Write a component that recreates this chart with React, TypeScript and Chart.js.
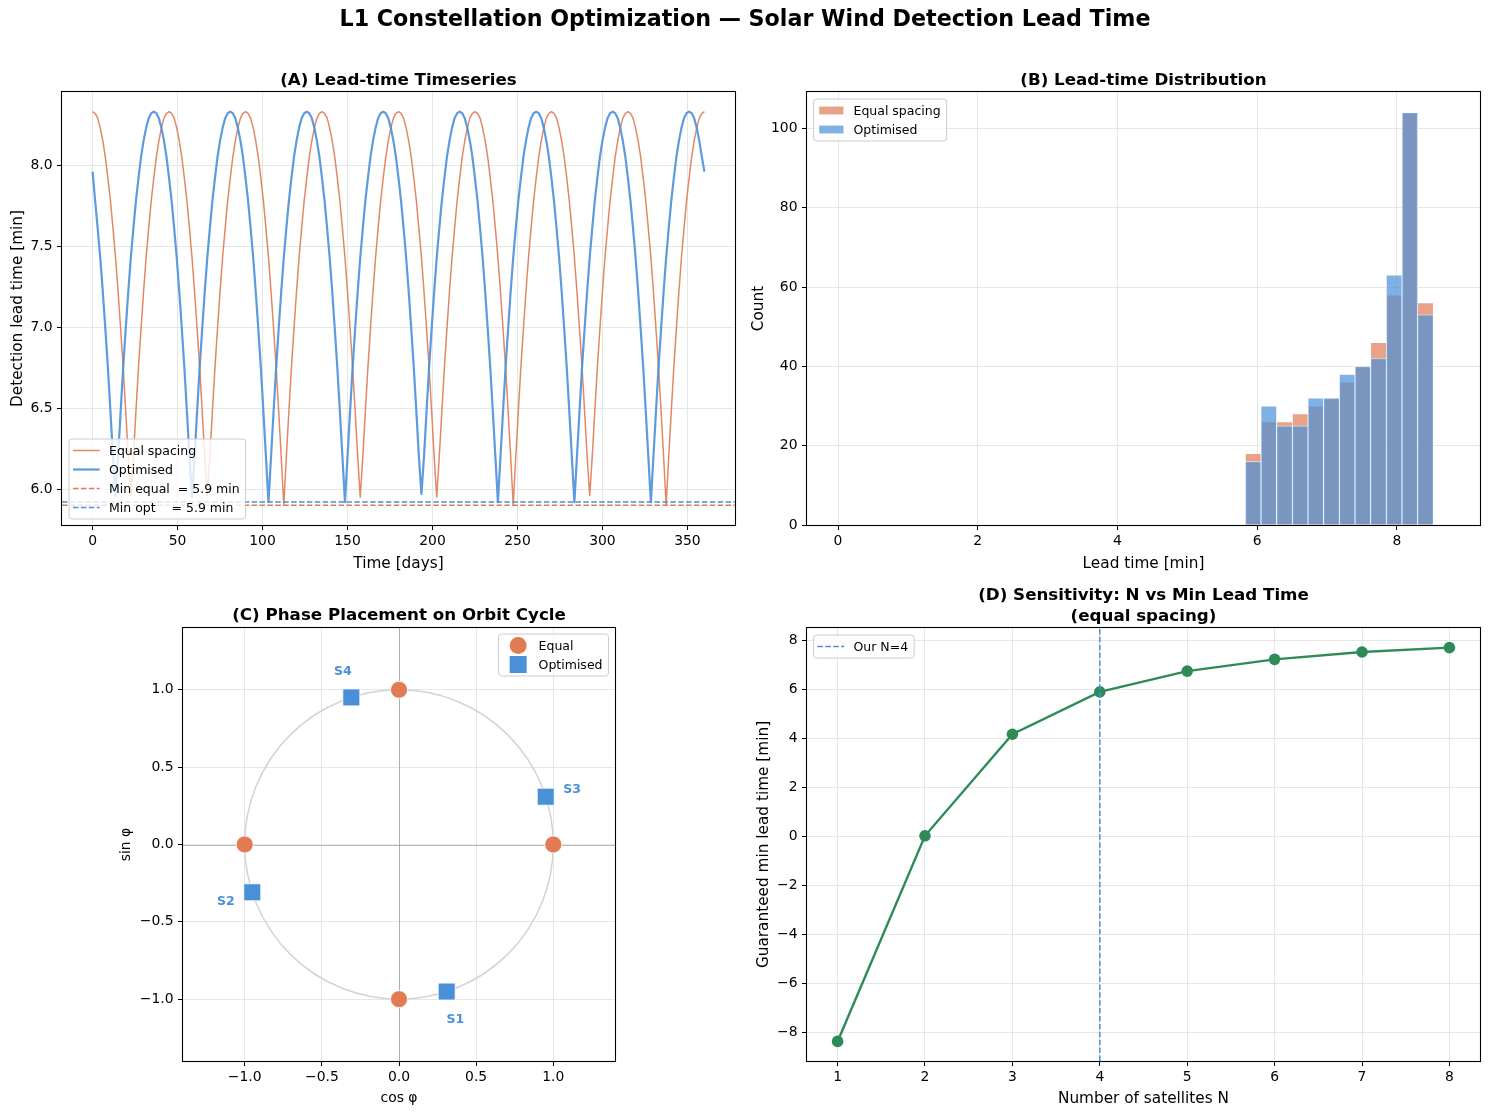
import { useEffect, useRef } from 'react';
import { Chart, registerables } from 'chart.js';

Chart.register(...registerables);

const PAGE_W = 1490;
const PAGE_H = 1115;
const FONT = "'DejaVu Sans', 'Liberation Sans', Arial, sans-serif";

const ORANGE = '#e07b54';
const BLUE = '#4a90d9';
const GREEN = '#2e8b57';
const ORANGE_LINE = 'rgba(224,123,84,0.9)';
const BLUE_LINE = 'rgba(74,144,217,0.9)';
const ORANGE_FILL = 'rgba(224,123,84,0.7)';
const BLUE_FILL = 'rgba(74,144,217,0.7)';
const GRID = '#e6e6e6';
const DASH = [5.5, 2.4];

// ---------- (A) lead time, one sample every 1.5 days over a year ----------
const SAMPLE_STEP_DAYS = 1.5;
const LEAD_EQUAL = [
  8.33, 8.32, 8.29, 8.23, 8.15, 8.05, 7.92, 7.78, 7.61, 7.43, 7.22, 6.99, 6.75, 6.48, 6.20, 5.96, 6.20, 6.48, 6.75, 6.99, 7.22, 7.43, 7.61, 7.78, 7.92, 8.05, 8.15, 8.23, 8.29, 8.32,
  8.33, 8.32, 8.29, 8.23, 8.15, 8.05, 7.92, 7.78, 7.61, 7.43, 7.22, 6.99, 6.75, 6.48, 6.20, 5.96, 6.20, 6.48, 6.75, 6.99, 7.22, 7.43, 7.61, 7.78, 7.92, 8.05, 8.15, 8.23, 8.29, 8.32,
  8.33, 8.32, 8.29, 8.23, 8.15, 8.05, 7.92, 7.78, 7.61, 7.43, 7.22, 6.99, 6.75, 6.48, 6.20, 5.90, 6.20, 6.48, 6.75, 6.99, 7.22, 7.43, 7.61, 7.78, 7.92, 8.05, 8.15, 8.23, 8.29, 8.32,
  8.33, 8.32, 8.29, 8.23, 8.15, 8.05, 7.92, 7.78, 7.61, 7.43, 7.22, 6.99, 6.75, 6.48, 6.20, 5.95, 6.20, 6.48, 6.75, 6.99, 7.22, 7.43, 7.61, 7.78, 7.92, 8.05, 8.15, 8.23, 8.29, 8.32,
  8.33, 8.32, 8.29, 8.23, 8.15, 8.05, 7.92, 7.78, 7.61, 7.43, 7.22, 6.99, 6.75, 6.48, 6.20, 5.95, 6.20, 6.48, 6.75, 6.99, 7.22, 7.43, 7.61, 7.78, 7.92, 8.05, 8.15, 8.23, 8.29, 8.32,
  8.33, 8.32, 8.29, 8.23, 8.15, 8.05, 7.92, 7.78, 7.61, 7.43, 7.22, 6.99, 6.75, 6.48, 6.20, 5.90, 6.20, 6.48, 6.75, 6.99, 7.22, 7.43, 7.61, 7.78, 7.92, 8.05, 8.15, 8.23, 8.29, 8.32,
  8.33, 8.32, 8.29, 8.23, 8.15, 8.05, 7.92, 7.78, 7.61, 7.43, 7.22, 6.99, 6.75, 6.48, 6.20, 5.96, 6.20, 6.48, 6.75, 6.99, 7.22, 7.43, 7.61, 7.78, 7.92, 8.05, 8.15, 8.23, 8.29, 8.32,
  8.33, 8.32, 8.29, 8.23, 8.15, 8.05, 7.92, 7.78, 7.61, 7.43, 7.22, 6.99, 6.75, 6.48, 6.20, 5.90, 6.20, 6.48, 6.75, 6.99, 7.22, 7.43, 7.61, 7.78, 7.92, 8.05, 8.15, 8.23, 8.29, 8.32,
  8.33,
];
const LEAD_OPT = [
  7.96, 7.78, 7.61, 7.43, 7.22, 6.99, 6.75, 6.48, 6.20, 5.96, 6.20, 6.48, 6.75, 6.99, 7.22, 7.43, 7.61, 7.78, 7.92, 8.05, 8.15, 8.23, 8.29, 8.32, 8.33, 8.32, 8.29, 8.23, 8.15, 8.05,
  7.92, 7.78, 7.61, 7.43, 7.22, 6.99, 6.75, 6.48, 6.20, 5.95, 6.20, 6.48, 6.75, 6.99, 7.22, 7.43, 7.61, 7.78, 7.92, 8.05, 8.15, 8.23, 8.29, 8.32, 8.33, 8.32, 8.29, 8.23, 8.15, 8.05,
  7.92, 7.78, 7.61, 7.43, 7.22, 6.99, 6.75, 6.48, 6.20, 5.92, 6.20, 6.48, 6.75, 6.99, 7.22, 7.43, 7.61, 7.78, 7.92, 8.05, 8.15, 8.23, 8.29, 8.32, 8.33, 8.32, 8.29, 8.23, 8.15, 8.05,
  7.92, 7.78, 7.61, 7.43, 7.22, 6.99, 6.75, 6.48, 6.20, 5.92, 6.20, 6.48, 6.75, 6.99, 7.22, 7.43, 7.61, 7.78, 7.92, 8.05, 8.15, 8.23, 8.29, 8.32, 8.33, 8.32, 8.29, 8.23, 8.15, 8.05,
  7.92, 7.78, 7.61, 7.43, 7.22, 6.99, 6.75, 6.48, 6.20, 5.97, 6.20, 6.48, 6.75, 6.99, 7.22, 7.43, 7.61, 7.78, 7.92, 8.05, 8.15, 8.23, 8.29, 8.32, 8.33, 8.32, 8.29, 8.23, 8.15, 8.05,
  7.92, 7.78, 7.61, 7.43, 7.22, 6.99, 6.75, 6.48, 6.20, 5.92, 6.20, 6.48, 6.75, 6.99, 7.22, 7.43, 7.61, 7.78, 7.92, 8.05, 8.15, 8.23, 8.29, 8.32, 8.33, 8.32, 8.29, 8.23, 8.15, 8.05,
  7.92, 7.78, 7.61, 7.43, 7.22, 6.99, 6.75, 6.48, 6.20, 5.92, 6.20, 6.48, 6.75, 6.99, 7.22, 7.43, 7.61, 7.78, 7.92, 8.05, 8.15, 8.23, 8.29, 8.32, 8.33, 8.32, 8.29, 8.23, 8.15, 8.05,
  7.92, 7.78, 7.61, 7.43, 7.22, 6.99, 6.75, 6.48, 6.20, 5.92, 6.20, 6.48, 6.75, 6.99, 7.22, 7.43, 7.61, 7.78, 7.92, 8.05, 8.15, 8.23, 8.29, 8.32, 8.33, 8.32, 8.29, 8.23, 8.15, 8.05,
  7.96,
];
const MIN_EQUAL = 5.9;
const MIN_OPT = 5.92;
const TIME_RANGE = [-18, 378];
const LEAD_RANGE = [5.7785, 8.4515];
const TIME_TICKS = [0, 50, 100, 150, 200, 250, 300, 350];
const LEAD_TICKS = [6.0, 6.5, 7.0, 7.5, 8.0];

// ---------- (B) histogram of lead times ----------
const BIN_CENTRES = [5.943, 6.167, 6.392, 6.616, 6.84, 7.064, 7.289, 7.513, 7.737, 7.961, 8.186, 8.41];
const COUNT_EQUAL = [18, 26, 26, 28, 30, 32, 36, 40, 46, 58, 104, 56];
const COUNT_OPT = [16, 30, 25, 25, 32, 32, 38, 40, 42, 63, 104, 53];
const HIST_X_RANGE = [-0.444, 9.19];
const HIST_Y_RANGE = [0, 109.2];
const HIST_X_TICKS = [0, 2, 4, 6, 8];
const HIST_Y_TICKS = [0, 20, 40, 60, 80, 100];

// ---------- (C) phase placement ----------
const EQUAL_COS = [1, 0, -1, 0];
const EQUAL_SIN = [0, 1, 0, -1];
const OPT_NAMES = ['S1', 'S2', 'S3', 'S4'];
const OPT_COS = [0.309, -0.951, 0.951, -0.309];
const OPT_SIN = [-0.951, -0.309, 0.309, 0.951];
const PHASE_RANGE = [-1.4, 1.4];
const PHASE_TICKS = [-1, -0.5, 0, 0.5, 1];

// ---------- (D) sensitivity to constellation size ----------
const SAT_COUNTS = [1, 2, 3, 4, 5, 6, 7, 8];
const MIN_LEAD_BY_N = [-8.38, 0.02, 4.17, 5.9, 6.75, 7.23, 7.53, 7.71];
const OUR_N = 4;
const N_RANGE = [0.65, 8.35];
const MINLEAD_RANGE = [-9.18, 8.51];
const N_TICKS = [1, 2, 3, 4, 5, 6, 7, 8];
const MINLEAD_TICKS = [-8, -6, -4, -2, 0, 2, 4, 6, 8];

// ---------- layout ----------
type Area = { l: number; t: number; r: number; b: number };
const AREA_A: Area = { l: 62, t: 92, r: 735, b: 525 };
const AREA_B: Area = { l: 807, t: 92, r: 1480, b: 525 };
const AREA_C: Area = { l: 183, t: 628, r: 615, b: 1061 };
const AREA_D: Area = { l: 807, t: 628, r: 1480, b: 1061 };
const Y_AXIS_W = 70;
const X_AXIS_H = 40;

const minus = (s: string) => s.replace('-', '\u2212');

function framePadding(a: Area) {
  return { left: a.l - Y_AXIS_W, top: a.t, right: PAGE_W - a.r, bottom: PAGE_H - a.b - X_AXIS_H };
}

function linearAxis(range: number[], ticks: number[], fmt: (v: number) => string, horizontal: boolean) {
  return {
    type: 'linear',
    min: range[0],
    max: range[1],
    offset: false,
    afterBuildTicks: (scale: any) => {
      scale.ticks = ticks.map((value) => ({ value }));
    },
    afterFit: (scale: any) => {
      if (horizontal) scale.height = X_AXIS_H;
      else scale.width = Y_AXIS_W;
    },
    grid: { offset: false, color: GRID, lineWidth: 1, drawTicks: true, tickLength: 5, tickColor: '#000', tickWidth: 1 },
    border: { display: false },
    ticks: {
      color: '#000',
      padding: horizontal ? 3 : 4.5,
      font: { family: FONT, size: 13.9 },
      maxRotation: 0,
      autoSkip: false,
      callback: (v: any) => fmt(Number(v)),
    },
  };
}

function baseOptions(area: Area, scales: any) {
  return {
    responsive: false,
    animation: false,
    devicePixelRatio: 1,
    events: [],
    layout: { padding: framePadding(area) },
    plugins: { legend: { display: false }, title: { display: false }, tooltip: { enabled: false } },
    scales,
  };
}

type TextItem = { text: string; x: number; y: number; size: number; bold?: boolean; rotate?: boolean; color?: string };
type LegendEntry = { label: string; kind: 'line' | 'dash' | 'patch' | 'circle' | 'square'; color: string; width?: number };
type LegendSpec = { corner: 'tl' | 'tr' | 'bl'; entries: LegendEntry[] };

function drawText(ctx: CanvasRenderingContext2D, t: TextItem) {
  ctx.save();
  ctx.font = `${t.bold ? 'bold ' : ''}${t.size}px ${FONT}`;
  ctx.fillStyle = t.color || '#000';
  ctx.textAlign = 'center';
  ctx.textBaseline = 'middle';
  ctx.translate(t.x, t.y);
  if (t.rotate) ctx.rotate(-Math.PI / 2);
  // nudge so the visible glyph centre sits on the anchor
  ctx.fillText(t.text, 0, t.size * 0.1);
  ctx.restore();
}

function drawLegend(ctx: CanvasRenderingContext2D, a: any, spec: LegendSpec) {
  ctx.save();
  ctx.font = `12.5px ${FONT}`;
  const rowGap = 19;
  const n = spec.entries.length;
  const textW = Math.max(...spec.entries.map((e) => ctx.measureText(e.label).width));
  const w = 40 + textW + 6;
  const h = (n - 1) * rowGap + 23;
  let x0 = a.left + 6.5;
  let y0 = a.top + 7;
  if (spec.corner === 'tr') {
    x0 = a.right - 6.5 - w;
    y0 = a.top + 6;
  } else if (spec.corner === 'bl') {
    x0 = a.left + 7;
    y0 = a.bottom - 6 - h;
  }
  ctx.beginPath();
  ctx.roundRect(x0, y0, w, h, 3);
  ctx.fillStyle = 'rgba(255,255,255,0.8)';
  ctx.fill();
  ctx.strokeStyle = '#cccccc';
  ctx.lineWidth = 1;
  ctx.stroke();
  spec.entries.forEach((e, i) => {
    const cy = y0 + 11.5 + i * rowGap;
    ctx.save();
    if (e.kind === 'line' || e.kind === 'dash') {
      ctx.beginPath();
      ctx.setLineDash(e.kind === 'dash' ? DASH : []);
      ctx.moveTo(x0 + 4, cy);
      ctx.lineTo(x0 + 30.7, cy);
      ctx.strokeStyle = e.color;
      ctx.lineWidth = e.width || 1.5;
      ctx.stroke();
    } else if (e.kind === 'patch') {
      ctx.fillStyle = e.color;
      ctx.fillRect(x0 + 5.7, cy - 3.9, 24.3, 7.8);
    } else if (e.kind === 'circle') {
      ctx.beginPath();
      ctx.arc(x0 + 19.6, cy, 8.5, 0, Math.PI * 2);
      ctx.fillStyle = e.color;
      ctx.fill();
    } else {
      ctx.fillStyle = e.color;
      ctx.fillRect(x0 + 19.6 - 8.5, cy - 8.5, 17, 17);
    }
    ctx.restore();
    ctx.fillStyle = '#000';
    ctx.textAlign = 'left';
    ctx.textBaseline = 'middle';
    ctx.fillText(e.label, x0 + 40, cy + 1);
  });
  ctx.restore();
}

function makeDecor(
  id: string,
  texts: (a: any) => TextItem[],
  legend: LegendSpec | null,
  under?: (chart: any) => void,
  over?: (chart: any) => void,
) {
  return {
    id,
    beforeDatasetsDraw(chart: any) {
      if (under) under(chart);
    },
    afterDatasetsDraw(chart: any) {
      const { ctx, chartArea: a } = chart;
      if (over) over(chart);
      ctx.save();
      ctx.strokeStyle = '#000';
      ctx.lineWidth = 1.1;
      ctx.strokeRect(a.left - 0.5, a.top - 0.5, a.right - a.left + 1, a.bottom - a.top + 1);
      ctx.restore();
      if (legend) drawLegend(ctx, a, legend);
    },
    afterDraw(chart: any) {
      const { ctx, chartArea: a } = chart;
      texts(a).forEach((t) => drawText(ctx, t));
    },
  };
}

const TITLE_SIZE = 16.7;
const LABEL_SIZE = 15.3;

function buildA() {
  const equal = LEAD_EQUAL.map((y, i) => ({ x: i * SAMPLE_STEP_DAYS, y }));
  const opt = LEAD_OPT.map((y, i) => ({ x: i * SAMPLE_STEP_DAYS, y }));
  const flat = (v: number) => [
    { x: TIME_RANGE[0], y: v },
    { x: TIME_RANGE[1], y: v },
  ];
  return {
    type: 'line',
    data: {
      datasets: [
        { data: flat(MIN_OPT), borderColor: BLUE, borderWidth: 1.5, borderDash: DASH, pointRadius: 0, order: 1 },
        { data: flat(MIN_EQUAL), borderColor: ORANGE, borderWidth: 1.5, borderDash: DASH, pointRadius: 0, order: 2 },
        { data: opt, borderColor: BLUE_LINE, borderWidth: 2.2, borderJoinStyle: 'round', pointRadius: 0, order: 3 },
        { data: equal, borderColor: ORANGE_LINE, borderWidth: 1.5, borderJoinStyle: 'round', pointRadius: 0, order: 4 },
      ],
    },
    options: baseOptions(AREA_A, {
      x: linearAxis(TIME_RANGE, TIME_TICKS, (v) => String(v), true),
      y: linearAxis(LEAD_RANGE, LEAD_TICKS, (v) => v.toFixed(1), false),
    }),
    plugins: [
      makeDecor(
        'decorA',
        (a) => [
          { text: 'L1 Constellation Optimization \u2014 Solar Wind Detection Lead Time', x: PAGE_W / 2, y: 18.5, size: 22.2, bold: true },
          { text: '(A) Lead-time Timeseries', x: (a.left + a.right) / 2, y: a.top - 13, size: TITLE_SIZE, bold: true },
          { text: 'Time [days]', x: (a.left + a.right) / 2, y: a.bottom + 37, size: LABEL_SIZE },
          { text: 'Detection lead time [min]', x: 16, y: (a.top + a.bottom) / 2, size: LABEL_SIZE, rotate: true },
        ],
        {
          corner: 'bl',
          entries: [
            { label: 'Equal spacing', kind: 'line', color: ORANGE_LINE, width: 1.5 },
            { label: 'Optimised', kind: 'line', color: BLUE_LINE, width: 2.2 },
            { label: `Min equal  = ${MIN_EQUAL.toFixed(1)} min`, kind: 'dash', color: ORANGE, width: 1.5 },
            { label: `Min opt    = ${MIN_OPT.toFixed(1)} min`, kind: 'dash', color: BLUE, width: 1.5 },
          ],
        },
      ),
    ],
  };
}

function buildB() {
  const barStyle = { grouped: false, barPercentage: 1, categoryPercentage: 1, borderWidth: 0.7, borderColor: 'rgba(255,255,255,0.8)' };
  return {
    type: 'bar',
    data: {
      datasets: [
        { ...barStyle, data: BIN_CENTRES.map((x, i) => ({ x, y: COUNT_OPT[i] })), backgroundColor: BLUE_FILL, order: 1 },
        { ...barStyle, data: BIN_CENTRES.map((x, i) => ({ x, y: COUNT_EQUAL[i] })), backgroundColor: ORANGE_FILL, order: 2 },
      ],
    },
    options: baseOptions(AREA_B, {
      x: linearAxis(HIST_X_RANGE, HIST_X_TICKS, (v) => String(v), true),
      y: linearAxis(HIST_Y_RANGE, HIST_Y_TICKS, (v) => String(v), false),
    }),
    plugins: [
      makeDecor(
        'decorB',
        (a) => [
          { text: '(B) Lead-time Distribution', x: (a.left + a.right) / 2, y: a.top - 13, size: TITLE_SIZE, bold: true },
          { text: 'Lead time [min]', x: (a.left + a.right) / 2, y: a.bottom + 37, size: LABEL_SIZE },
          { text: 'Count', x: 757, y: (a.top + a.bottom) / 2, size: LABEL_SIZE, rotate: true },
        ],
        {
          corner: 'tl',
          entries: [
            { label: 'Equal spacing', kind: 'patch', color: ORANGE_FILL },
            { label: 'Optimised', kind: 'patch', color: BLUE_FILL },
          ],
        },
      ),
    ],
  };
}

function buildC() {
  const under = (chart: any) => {
    const { ctx, chartArea: a, scales } = chart;
    const cx = scales.x.getPixelForValue(0);
    const cy = scales.y.getPixelForValue(0);
    ctx.save();
    ctx.strokeStyle = 'rgba(128,128,128,0.6)';
    ctx.lineWidth = 0.9;
    ctx.beginPath();
    ctx.moveTo(a.left, Math.round(cy) + 0.5);
    ctx.lineTo(a.right, Math.round(cy) + 0.5);
    ctx.moveTo(Math.round(cx) + 0.5, a.top);
    ctx.lineTo(Math.round(cx) + 0.5, a.bottom);
    ctx.stroke();
    const rx = scales.x.getPixelForValue(1) - cx;
    const ry = cy - scales.y.getPixelForValue(1);
    ctx.beginPath();
    ctx.ellipse(cx, cy, rx, ry, 0, 0, Math.PI * 2);
    ctx.strokeStyle = '#d3d3d3';
    ctx.lineWidth = 1.5;
    ctx.stroke();
    ctx.restore();
  };
  const over = (chart: any) => {
    const { ctx, scales } = chart;
    OPT_NAMES.forEach((name, i) => {
      drawText(ctx, {
        text: name,
        x: scales.x.getPixelForValue(OPT_COS[i] * 1.18),
        y: scales.y.getPixelForValue(OPT_SIN[i] * 1.18),
        size: 12.5,
        bold: true,
        color: BLUE,
      });
    });
  };
  const phaseFmt = (v: number) => minus(v.toFixed(1));
  return {
    type: 'scatter',
    data: {
      datasets: [
        {
          data: OPT_COS.map((x, i) => ({ x, y: OPT_SIN[i] })),
          pointStyle: 'rect',
          pointRadius: 12,
          backgroundColor: BLUE,
          borderColor: '#ffffff',
          borderWidth: 0.8,
          order: 1,
        },
        {
          data: EQUAL_COS.map((x, i) => ({ x, y: EQUAL_SIN[i] })),
          pointStyle: 'circle',
          pointRadius: 8.5,
          backgroundColor: ORANGE,
          borderColor: '#ffffff',
          borderWidth: 0.8,
          order: 2,
        },
      ],
    },
    options: baseOptions(AREA_C, {
      x: linearAxis(PHASE_RANGE, PHASE_TICKS, phaseFmt, true),
      y: linearAxis(PHASE_RANGE, PHASE_TICKS, phaseFmt, false),
    }),
    plugins: [
      makeDecor(
        'decorC',
        (a) => [
          { text: '(C) Phase Placement on Orbit Cycle', x: (a.left + a.right) / 2, y: a.top - 14, size: TITLE_SIZE, bold: true },
          { text: 'cos \u03c6', x: (a.left + a.right) / 2, y: a.bottom + 36, size: 13.9 },
          { text: 'sin \u03c6', x: 125, y: (a.top + a.bottom) / 2, size: 13.9, rotate: true },
        ],
        {
          corner: 'tr',
          entries: [
            { label: 'Equal', kind: 'circle', color: ORANGE },
            { label: 'Optimised', kind: 'square', color: BLUE },
          ],
        },
        under,
        over,
      ),
    ],
  };
}

function buildD() {
  return {
    type: 'line',
    data: {
      datasets: [
        {
          data: [
            { x: OUR_N, y: MINLEAD_RANGE[0] },
            { x: OUR_N, y: MINLEAD_RANGE[1] },
          ],
          borderColor: BLUE,
          borderWidth: 1.5,
          borderDash: DASH,
          pointRadius: 0,
          order: 1,
        },
        {
          data: SAT_COUNTS.map((x, i) => ({ x, y: MIN_LEAD_BY_N[i] })),
          borderColor: GREEN,
          borderWidth: 2.4,
          pointRadius: 5.8,
          pointBackgroundColor: GREEN,
          pointBorderColor: GREEN,
          pointBorderWidth: 0,
          order: 2,
        },
      ],
    },
    options: baseOptions(AREA_D, {
      x: linearAxis(N_RANGE, N_TICKS, (v) => String(v), true),
      y: linearAxis(MINLEAD_RANGE, MINLEAD_TICKS, (v) => minus(String(v)), false),
    }),
    plugins: [
      makeDecor(
        'decorD',
        (a) => [
          { text: '(D) Sensitivity: N vs Min Lead Time', x: (a.left + a.right) / 2, y: a.top - 34.5, size: TITLE_SIZE, bold: true },
          { text: '(equal spacing)', x: (a.left + a.right) / 2, y: a.top - 13.5, size: TITLE_SIZE, bold: true },
          { text: 'Number of satellites N', x: (a.left + a.right) / 2, y: a.bottom + 36, size: LABEL_SIZE },
          { text: 'Guaranteed min lead time [min]', x: 762, y: (a.top + a.bottom) / 2, size: LABEL_SIZE, rotate: true },
        ],
        {
          corner: 'tl',
          entries: [{ label: `Our N=${OUR_N}`, kind: 'dash', color: BLUE, width: 1.5 }],
        },
      ),
    ],
  };
}

function Panel({ build }: { build: () => any }) {
  const ref = useRef<HTMLCanvasElement>(null);
  useEffect(() => {
    if (!ref.current) return;
    const chart = new Chart(ref.current, build());
    return () => chart.destroy();
  }, [build]);
  return (
    <canvas
      ref={ref}
      width={PAGE_W}
      height={PAGE_H}
      style={{ position: 'absolute', left: 0, top: 0, width: PAGE_W, height: PAGE_H }}
    />
  );
}

export default function App() {
  return (
    <div
      style={{
        position: 'absolute',
        left: 0,
        top: 0,
        width: PAGE_W,
        height: PAGE_H,
        background: '#ffffff',
        overflow: 'hidden',
      }}
    >
      <Panel build={buildA} />
      <Panel build={buildB} />
      <Panel build={buildC} />
      <Panel build={buildD} />
    </div>
  );
}
